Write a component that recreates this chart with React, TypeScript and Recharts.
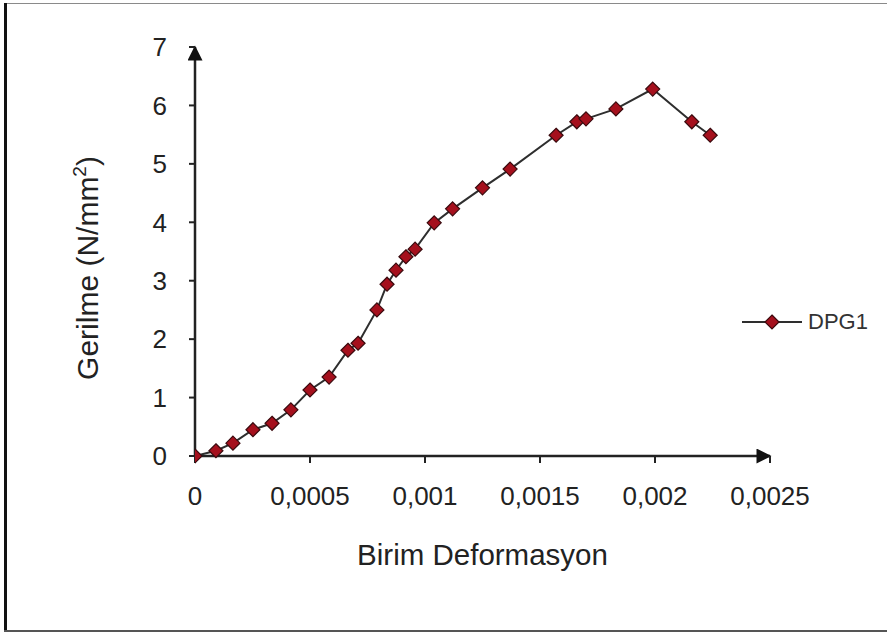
import React from "react";
import { LineChart, Line, XAxis, YAxis, Label } from "recharts";

// Birim deformasyon (x) / gerilme (y) okumaları
const strain = [
  0, 0.000091, 0.000165, 0.000252, 0.000335, 0.000417, 0.0005, 0.000583,
  0.000665, 0.000709, 0.000791, 0.000835, 0.000874, 0.000917, 0.000957,
  0.00104, 0.00112, 0.00125, 0.00137, 0.00157, 0.00166, 0.0017, 0.00183,
  0.00199, 0.00216, 0.00224,
];
const stress = [
  0, 0.09, 0.22, 0.45, 0.56, 0.79, 1.13, 1.35, 1.81, 1.93, 2.5, 2.94, 3.18,
  3.41, 3.54, 3.99, 4.23, 4.59, 4.91, 5.49, 5.72, 5.77, 5.94, 6.28, 5.72,
  5.49,
];
const xTicks = [0, 0.0005, 0.001, 0.0015, 0.002, 0.0025];
const yTicks = [0, 1, 2, 3, 4, 5, 6, 7];
const seriesName = "DPG1";

const data = strain.map((x, i) => ({ x, y: stress[i] }));

const FONT = "'Liberation Sans', Arial, sans-serif";
const MARK_FILL = "#a5101d";
const MARK_STROKE = "#3a0a0e";
const LINE = "#2e2e2e";

function Diamond(props: any) {
  const { cx, cy } = props;
  if (cx == null || cy == null) return null;
  const r = 7;
  return (
    <polygon
      points={`${cx},${cy - r} ${cx + r},${cy} ${cx},${cy + r} ${cx - r},${cy}`}
      fill={MARK_FILL}
      stroke={MARK_STROKE}
      strokeWidth={1.2}
    />
  );
}

function LegendBox() {
  return (
    <div
      style={{
        position: "absolute",
        left: 742,
        top: 309,
        display: "flex",
        alignItems: "center",
        fontFamily: FONT,
      }}
    >
      <svg width={62} height={20}>
        <line x1={0} y1={10} x2={60} y2={10} stroke={LINE} strokeWidth={2} />
        <Diamond cx={30} cy={10} />
      </svg>
      <span style={{ fontSize: 22, color: "#333", marginLeft: 4 }}>
        {seriesName}
      </span>
    </div>
  );
}

function YTitle() {
  return (
    <text
      x={98}
      y={268}
      transform="rotate(-90 98 268)"
      textAnchor="middle"
      fontFamily={FONT}
      fontSize={30}
      fill="#222"
    >
      Gerilme (N/mm
      <tspan dy={-12} fontSize={19}>
        2
      </tspan>
      <tspan dy={12}>)</tspan>
    </text>
  );
}

export default function App() {
  return (
    <div
      style={{
        position: "absolute",
        left: 0,
        top: 0,
        width: 887,
        height: 634,
        background: "#fff",
      }}
    >
      <svg width={0} height={0} style={{ position: "absolute" }}>
        <defs>
          <marker
            id="arrowHead"
            viewBox="0 0 10 10"
            refX={9}
            refY={5}
            markerWidth={17}
            markerHeight={15}
            markerUnits="userSpaceOnUse"
            orient="auto-start-reverse"
          >
            <path d="M0,0 L10,5 L0,10 z" fill="#111" />
          </marker>
        </defs>
      </svg>
      <div style={{ position: "absolute", left: 4, top: 3, width: 883, height: 1, background: "#8a8a8a" }} />
      <div style={{ position: "absolute", left: 4, top: 3, width: 3, height: 629, background: "#111" }} />
      <div style={{ position: "absolute", left: 4, top: 630, width: 883, height: 2, background: "#555" }} />
      <LineChart
        width={887}
        height={634}
        data={data}
        margin={{ top: 47, right: 117, bottom: 0, left: 0 }}
        style={{ position: "absolute", left: 0, top: 0 }}
      >
        <XAxis
          type="number"
          dataKey="x"
          domain={[0, 0.0025]}
          ticks={xTicks}
          height={178}
          tickSize={7}
          tickMargin={24}
          tickFormatter={(v: number) => String(v).replace(".", ",")}
          tick={{ fontFamily: FONT, fontSize: 26, fill: "#222" }}
          axisLine={{ stroke: "#222", strokeWidth: 2.5, markerEnd: "url(#arrowHead)" } as any}
          tickLine={{ stroke: "#222", strokeWidth: 2 }}
          allowDataOverflow
        >
          <Label
            value="Birim Deformasyon"
            position="insideTop"
            offset={88}
            style={{ fontFamily: FONT, fontSize: 29.5, fill: "#222" }}
          />
        </XAxis>
        <YAxis
          type="number"
          dataKey="y"
          domain={[0, 7]}
          ticks={yTicks}
          width={195}
          tickSize={6}
          tickMargin={22}
          tick={{ fontFamily: FONT, fontSize: 26, fill: "#222" }}
          axisLine={{ stroke: "#222", strokeWidth: 2.5, markerStart: "url(#arrowHead)" } as any}
          tickLine={{ stroke: "#222", strokeWidth: 2 }}
        >
          <Label content={<YTitle />} />
        </YAxis>
        <Line
          type="linear"
          dataKey="y"
          name={seriesName}
          stroke={LINE}
          strokeWidth={2}
          dot={<Diamond />}
          activeDot={false}
          isAnimationActive={false}
        />
      </LineChart>
      <LegendBox />
    </div>
  );
}
